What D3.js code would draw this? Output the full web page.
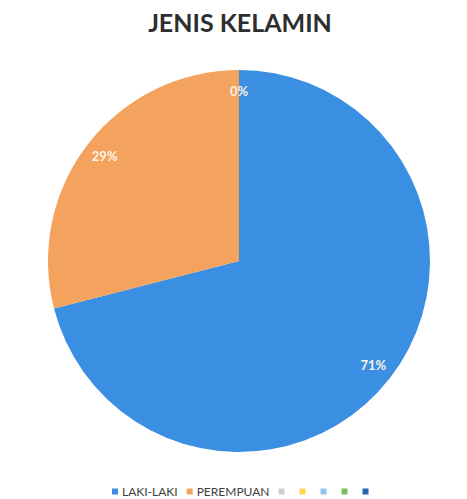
<!DOCTYPE html>
<html><head><meta charset="utf-8">
<script src="https://cdn.jsdelivr.net/npm/d3@7"></script>
<style>body{margin:0;background:#fff;}svg{display:block;}</style>
</head><body>
<svg id="c" width="467" height="499"></svg>
<script>
const title = "JENIS KELAMIN";
const categories = ["LAKI-LAKI", "PEREMPUAN", "", "", "", "", ""];
const values = [71, 29, 0, 0, 0, 0, 0];
const colors = ["#3b8fe2", "#f4a35e", "#cfcfcf", "#ffd84a", "#93c3ee", "#76bf62", "#2466b4"];

const svg = d3.select("#c");
const cx = 239, cy = 261, r = 191;

svg.append("text").attr("x", 240).attr("y", 32).attr("text-anchor", "middle")
  .attr("font-family", "Lato, 'Open Sans', sans-serif").attr("font-weight", "bold")
  .attr("font-size", 25).attr("fill", "#2e2e2e").text(title);

const data = categories.map((c, i) => ({cat: c, value: values[i], color: colors[i]}));
const pie = d3.pie().value(d => d.value).sort(null);
const arcs = pie(data);
const arc = d3.arc().innerRadius(0).outerRadius(r);
const labelArc = d3.arc().innerRadius(r * 0.89).outerRadius(r * 0.89);
const total = d3.sum(values);

const g = svg.append("g").attr("transform", `translate(${cx},${cy})`);
g.selectAll("path").data(arcs.filter(a => a.data.value > 0)).join("path")
  .attr("d", arc).attr("fill", d => d.data.color);

const seen = new Set();
const labs = arcs.filter(a => {
  const k = labelArc.centroid(a).map(v => Math.round(v)).join(",");
  if (seen.has(k)) return false; seen.add(k); return true;
});
g.selectAll("text.lab").data(labs).join("text").attr("class", "lab")
  .attr("transform", d => `translate(${labelArc.centroid(d)})`)
  .attr("text-anchor", "middle").attr("dy", "0.35em")
  .attr("font-family", "Lato, 'Open Sans', sans-serif").attr("font-weight", "bold")
  .attr("font-size", 13).attr("fill", "#fbf3e6")
  .text(d => d3.format(".0%")(d.data.value / total));

const leg = svg.append("g").attr("transform", "translate(0,492)");
let x = 112;
data.forEach((d, i) => {
  leg.append("rect").attr("x", x).attr("y", -3.5).attr("width", 6).attr("height", 6).attr("fill", d.color);
  x += 10;
  if (d.cat) {
    const t = leg.append("text").attr("x", x).attr("y", 0).attr("dy", "0.35em")
      .attr("font-family", "Lato, 'Open Sans', sans-serif").attr("font-size", 12)
      .attr("fill", "#404040").text(d.cat);
    x += t.node().getComputedTextLength() + 9;
  } else {
    x += 11;
  }
});
</script>
</body></html>
